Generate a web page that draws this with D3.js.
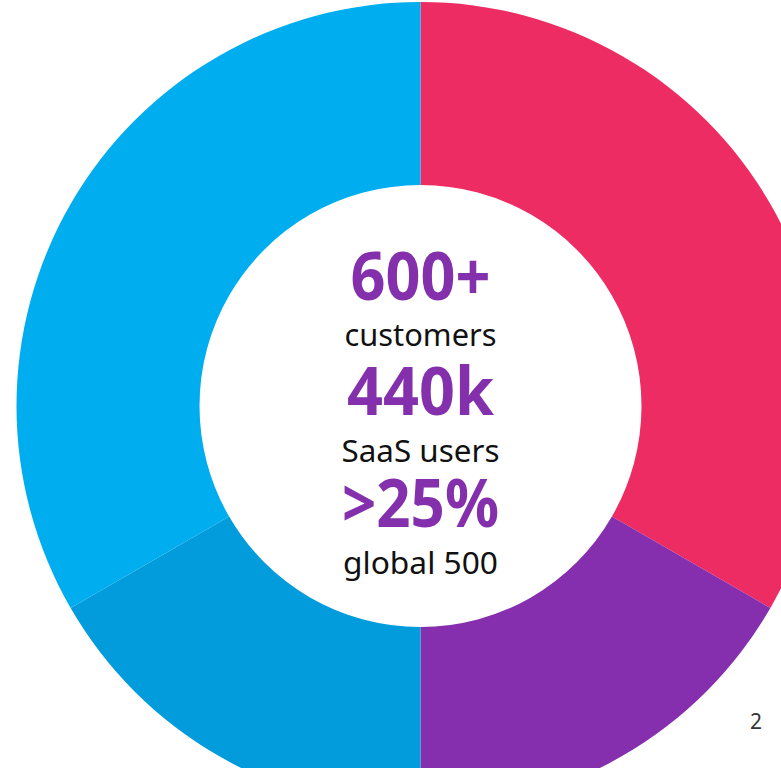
<!DOCTYPE html>
<html lang="en">
<head>
  <meta charset="UTF-8" />
  <title>Customers donut</title>
  <script src="https://d3js.org/d3.v7.min.js"></script>
  <style>
    html, body { margin: 0; padding: 0; background: #fff; overflow: hidden; }
    svg { display: block; }
  </style>
</head>
<body>
<div id="chart"></div>
<script>
// segment data (clockwise from 12 o'clock)
const segments = ["A", "B", "C", "D"];
const segmentValues = [120, 60, 60, 120];
const segmentColors = ["#ee2c64", "#852eae", "#029bdc", "#00adee"];

// center stats
const statValues = ["600+", "440k", ">25%"];
const statLabels = ["customers", "SaaS users", "global 500"];
const pageNumber = "2";

const W = 781, H = 768;
const cx = 420.5, cy = 406, outerR = 404, innerR = 221;

const svg = d3.select("#chart").append("svg")
  .attr("width", W).attr("height", H);

const g = svg.append("g").attr("transform", `translate(${cx},${cy})`);

const pie = d3.pie().sort(null).value(d => d.v);
const arc = d3.arc().innerRadius(innerR).outerRadius(outerR);

const color = d3.scaleOrdinal().domain(segments).range(segmentColors);

g.selectAll("path")
  .data(pie(segments.map((k, i) => ({ k, v: segmentValues[i] }))))
  .join("path")
  .attr("d", arc)
  .attr("fill", d => color(d.data.k));

// center text
const font = "'Noto Sans', 'DejaVu Sans', sans-serif";
const bigY = [300, 415, 527];
const smallY = [346, 462, 574];
const bigW = [140, 147, 157];
const smallW = [152, 158, 155];

statValues.forEach((t, i) => {
  svg.append("text")
    .attr("x", cx).attr("y", bigY[i])
    .attr("text-anchor", "middle")
    .attr("font-family", font)
    .attr("font-weight", "bold")
    .attr("font-size", 66)
    .attr("fill", "#8430ac")
    .attr("textLength", bigW[i])
    .attr("lengthAdjust", "spacingAndGlyphs")
    .text(t);
  svg.append("text")
    .attr("x", cx).attr("y", smallY[i])
    .attr("text-anchor", "middle")
    .attr("font-family", font)
    .attr("font-size", 30)
    .attr("fill", "#111")
    .attr("textLength", smallW[i])
    .attr("lengthAdjust", "spacingAndGlyphs")
    .text(statLabels[i]);
});

svg.append("text")
  .attr("x", 756).attr("y", 729)
  .attr("text-anchor", "middle")
  .attr("font-family", font)
  .attr("font-size", 21)
  .attr("fill", "#333")
  .text(pageNumber);
</script>
</body>
</html>
